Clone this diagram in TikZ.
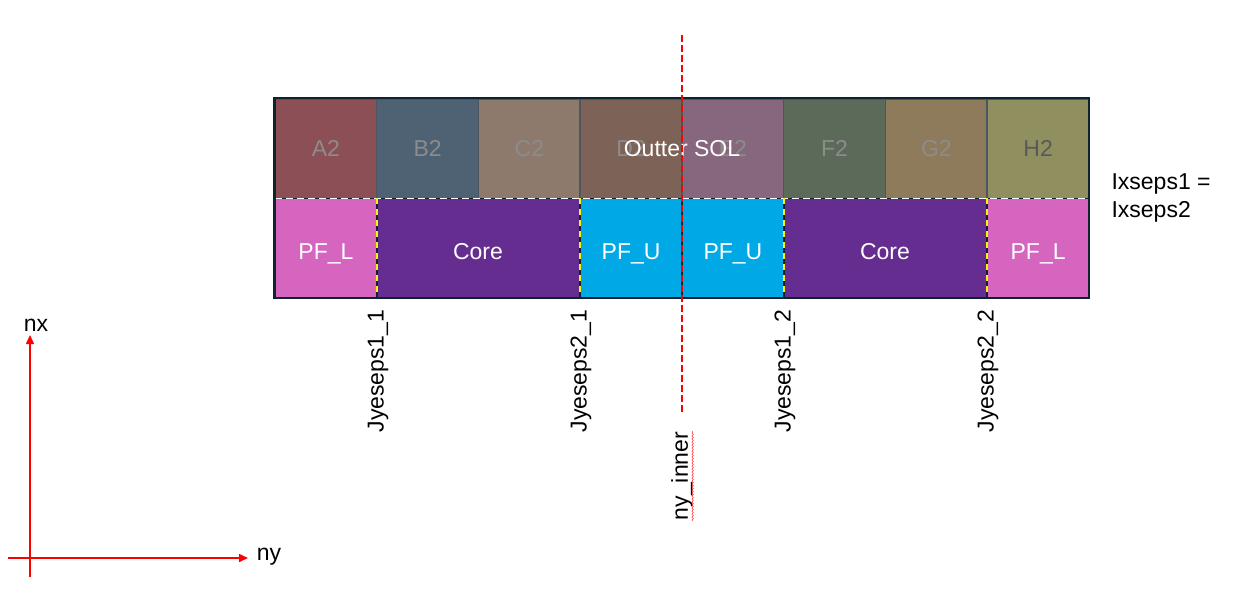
\documentclass[tikz,border=0pt]{standalone}
\usepackage{fontspec}
\setmainfont{Liberation Sans}
\usepackage{xcolor}
\usepackage{tikz}
\usetikzlibrary{arrows.meta,decorations.pathmorphing}

\definecolor{cellA}{HTML}{8C4F56}
\definecolor{cellB}{HTML}{4E6273}
\definecolor{cellC}{HTML}{8E7A6D}
\definecolor{cellD}{HTML}{7D6257}
\definecolor{cellE}{HTML}{87677E}
\definecolor{cellF}{HTML}{5B6A59}
\definecolor{cellG}{HTML}{8E7B5C}
\definecolor{cellH}{HTML}{8F8F5F}
\definecolor{pflcol}{HTML}{D565BF}
\definecolor{corecol}{HTML}{662D91}
\definecolor{pfucol}{HTML}{00A8E6}
\definecolor{framedark}{HTML}{0E2330}
\definecolor{cellline}{HTML}{4C5560}
\definecolor{solgray}{HTML}{8C8C8C}

\tikzset{
  solcell/.style={draw=cellline, line width=1.5, minimum width=101.75, minimum height=99.5, inner sep=0, text=solgray},
  regcell/.style={minimum height=99.5, inner sep=0, text height=22, text depth=0, text=white},
  sepline/.style={framedark, line width=1.5},
  sepdash/.style={yellow, line width=1.5, dash pattern=on 6 off 5},
  rowdash/.style={white, line width=1.5, dash pattern=on 7 off 4},
  reddash/.style={red, line width=1.5, dash pattern=on 7 off 3},
  axis/.style={red, line width=1.5, -{Triangle[length=9,width=8]}},
  vlabel/.style={rotate=90, inner sep=0.75}
}

\begin{document}
\begin{tikzpicture}[x=1pt,y=1pt,yscale=-1, every node/.style={font=\fontsize{23}{28}\selectfont}]
\useasboundingbox (0,0) rectangle (1244,599);

%Shape: top row
\node [solcell, fill=cellA] (A2) at (325.9,148.75) {A2};
\node [solcell, fill=cellB] (B2) at (427.6,148.75) {B2};
\node [solcell, fill=cellC] (C2) at (529.4,148.75) {C2};
\node [solcell, fill=cellD] (D2) at (631.1,148.75) {D2};
\node [solcell, fill=cellE] (E2) at (732.9,148.75) {E2};
\node [solcell, fill=cellF] (F2) at (834.6,148.75) {F2};
\node [solcell, fill=cellG] (G2) at (936.4,148.75) {G2};
\node [solcell, fill=cellH, text=black!65] (H2) at (1038.1,148.75) {H2};

%Shape: bottom row
\node [regcell, fill=pflcol, minimum width=101.75] (pfl1) at (325.9,248.25) {PF\_L};
\node [regcell, fill=corecol, minimum width=203.5] (core1) at (478,248.25) {Core};
\node [regcell, fill=pfucol, minimum width=101.75] (pfu1) at (631.1,248.25) {PF\_U};
\node [regcell, fill=pfucol, minimum width=101.75] (pfu2) at (732.9,248.25) {PF\_U};
\node [regcell, fill=corecol, minimum width=203.5] (core2) at (885,248.25) {Core};
\node [regcell, fill=pflcol, minimum width=101.75] (pfl2) at (1038.1,248.25) {PF\_L};

% Text Node
\node [text=white] (sol) at (682,149) {Outter SOL};

%Straight Lines: separators
\draw [sepline] (pfl1.north west) -- (pfl2.north east);
\draw [rowdash] (pfl1.north west) -- (pfl2.north east);
\draw [sepline] (pfu1.north east) -- (pfu1.south east);
\draw [sepline] (pfl1.north east) -- (pfl1.south east);
\draw [sepdash] (pfl1.north east) -- (pfl1.south east);
\draw [sepline] (core1.north east) -- (core1.south east);
\draw [sepdash] (core1.north east) -- (core1.south east);
\draw [sepline] (pfu2.north east) -- (pfu2.south east);
\draw [sepdash] (pfu2.north east) -- (pfu2.south east);
\draw [sepline] (core2.north east) -- (core2.south east);
\draw [sepdash] (core2.north east) -- (core2.south east);

%Shape: Rectangle frame
\draw [framedark, line width=2.5] (A2.north west) rectangle (pfl2.south east);

% Text Node
\node [anchor=west, align=left, font=\fontsize{23}{28}\selectfont] (ixseps) at (1108,198) {Ixseps1 =\\Ixseps2};

%Straight Lines: inner cut
\coordinate (cuttop) at (682,35);
\coordinate (cutbot) at (682,412);
\draw [reddash] (cuttop) -- (cutbot);

% Text Node
\node [vlabel] (jy11) at (378,371) {Jyeseps1\_1};
\node [vlabel] (jy21) at (581,371) {Jyeseps2\_1};
\node [vlabel] (jy12) at (785,371) {Jyeseps1\_2};
\node [vlabel] (jy22) at (988,371) {Jyeseps2\_2};
\node [vlabel] (nyinner) at (682,476) {ny\_inner};
\coordinate (squigA) at ([xshift=-1]nyinner.south west);
\coordinate (squigB) at ([xshift=-1]nyinner.south east);
\draw [red!80, line width=0.5, decorate, decoration={snake, amplitude=0.8, segment length=3}] (squigA) -- (squigB);

%Straight Lines: axes
\coordinate (ox) at (30,577);
\coordinate (oy) at (8,558);
\node (nx) at (36,325) {nx};
\node (ny) at (269,557) {ny};
\draw [axis] (ox) -- (30,335);
\draw [axis] (oy) -- (248,558);

\end{tikzpicture}
\end{document}
